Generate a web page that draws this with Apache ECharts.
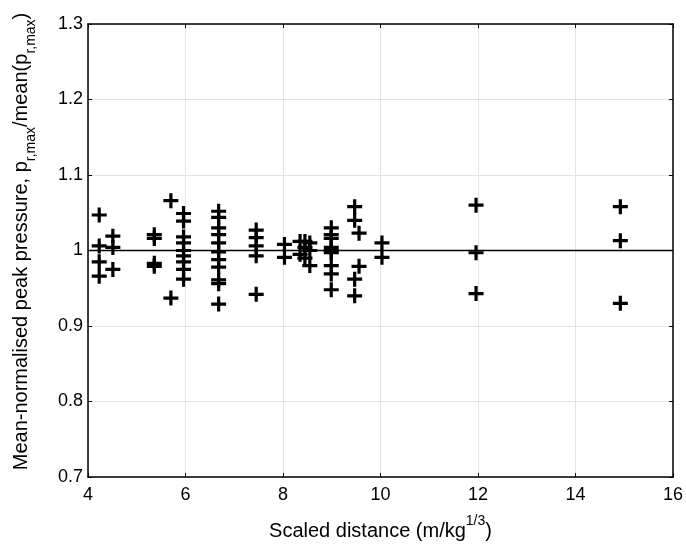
<!DOCTYPE html>
<html>
<head>
<meta charset="utf-8">
<script src="https://cdn.jsdelivr.net/npm/echarts@6/dist/echarts.min.js"></script>
<style>html,body{margin:0;padding:0;background:#fff}#c{width:686px;height:550px}</style>
</head>
<body>
<div id="c"></div>
<script>
// Scaled distance of each group and the normalised peak pressures measured at it
const groupDistance = [4.23, 4.51, 5.36, 5.70, 5.96, 6.68, 7.45, 8.03, 8.35, 8.45, 8.55, 8.99, 9.47, 9.56, 10.03, 11.96, 14.92];
const groupValues = [
  [1.047, 1.006, 0.985, 0.966],
  [1.019, 1.004, 0.975],
  [1.021, 1.016, 0.983, 0.979],
  [1.066, 0.937],
  [1.049, 1.039, 1.018, 1.010, 1.000, 0.993, 0.985, 0.975, 0.962],
  [1.052, 1.044, 1.030, 1.021, 1.010, 0.998, 0.988, 0.978, 0.961, 0.956, 0.929],
  [1.027, 1.017, 1.006, 0.993, 0.942],
  [1.008, 0.991],
  [1.012, 0.995],
  [1.012, 1.004, 0.990],
  [1.010, 1.000, 0.980],
  [1.030, 1.021, 1.016, 1.004, 1.000, 0.997, 0.980, 0.969, 0.948],
  [1.058, 1.040, 0.962, 0.940],
  [1.023, 0.979],
  [1.010, 0.991],
  [1.060, 0.997, 0.943],
  [1.058, 1.013, 0.930]
];
const xTicks = [4, 6, 8, 10, 12, 14, 16];
const yTicks = [0.7, 0.8, 0.9, 1.0, 1.1, 1.2, 1.3];
const referenceLevel = 1;

const points = [];
groupDistance.forEach((d, i) => groupValues[i].forEach(v => points.push([d, v])));

const FONT = 'Liberation Sans';
const plus = 'path://M-1.5,-7H1.5V-1.5H7V1.5H1.5V7H-1.5V1.5H-7V-1.5H-1.5Z';

const chart = echarts.init(document.getElementById('c'), null, {renderer: 'canvas'});
const axisCommonX = {
  type: 'value', min: 4, max: 16, interval: 2,
  axisLine: {show: true, onZero: false, lineStyle: {color: '#000', width: 1.5}},
  axisTick: {show: true, inside: true, length: 4, lineStyle: {color: '#000'}},
};
const axisCommonY = {
  type: 'value', min: 0.7, max: 1.3, interval: 0.1,
  axisLine: {show: true, onZero: false, lineStyle: {color: '#000', width: 1.5}},
  axisTick: {show: true, inside: true, length: 4, lineStyle: {color: '#000'}},
};
chart.setOption({
  animation: false,
  backgroundColor: '#fff',
  grid: {left: 88, right: 12, top: 24, bottom: 73, containLabel: false},
  xAxis: [
    Object.assign({}, axisCommonX, {
      position: 'bottom',
      axisLabel: {color: '#000', fontFamily: FONT, fontSize: 18, margin: 9,
        formatter: v => xTicks.includes(v) ? String(v) : ''},
      splitLine: {show: true, lineStyle: {color: '#e3e3e3', width: 1}},
      name: '{n|Scaled distance (m/kg}{sup|1/3}{n|)}',
      nameLocation: 'middle', nameGap: 37,
      nameTextStyle: {rich: {
        n: {fontFamily: FONT, fontSize: 20, color: '#000', lineHeight: 27, verticalAlign: 'bottom'},
        sup: {fontFamily: FONT, fontSize: 14, color: '#000', lineHeight: 27, verticalAlign: 'top', padding: [0, 0, 10, 0]}
      }}
    }),
    Object.assign({}, axisCommonX, {
      position: 'top', axisLabel: {show: false}, splitLine: {show: false}
    })
  ],
  yAxis: [
    Object.assign({}, axisCommonY, {
      position: 'left',
      axisLabel: {color: '#000', fontFamily: FONT, fontSize: 18, margin: 5,
        formatter: v => { const t = yTicks.find(t => Math.abs(t - v) < 1e-6); return t === undefined ? '' : (t === 1 ? '1' : t.toFixed(1)); }},
      splitLine: {show: true, lineStyle: {color: '#e3e3e3', width: 1}},
      name: '{n|Mean-normalised peak pressure, p}{sub|r,max}{n|/mean(p}{sub|r,max}{n|)}',
      nameLocation: 'middle', nameRotate: 90, nameGap: 50,
      nameTextStyle: {padding: [0, 0, 0, 18], rich: {
        n: {fontFamily: FONT, fontSize: 20, color: '#000', lineHeight: 27, verticalAlign: 'top'},
        sub: {fontFamily: FONT, fontSize: 14, color: '#000', lineHeight: 27, verticalAlign: 'bottom'}
      }}
    }),
    Object.assign({}, axisCommonY, {
      position: 'right', axisLabel: {show: false}, splitLine: {show: false}
    })
  ],
  series: [
    {
      type: 'scatter',
      xAxisIndex: 0, yAxisIndex: 0,
      data: points,
      symbol: plus,
      symbolSize: 15,
      itemStyle: {color: '#000', opacity: 1},
      z: 5,
      markLine: {
        silent: true, symbol: ['none', 'none'], animation: false,
        label: {show: false},
        lineStyle: {color: '#000', width: 1.3, type: 'solid'},
        data: [{yAxis: referenceLevel}]
      }
    }
  ]
});
</script>
</body>
</html>
